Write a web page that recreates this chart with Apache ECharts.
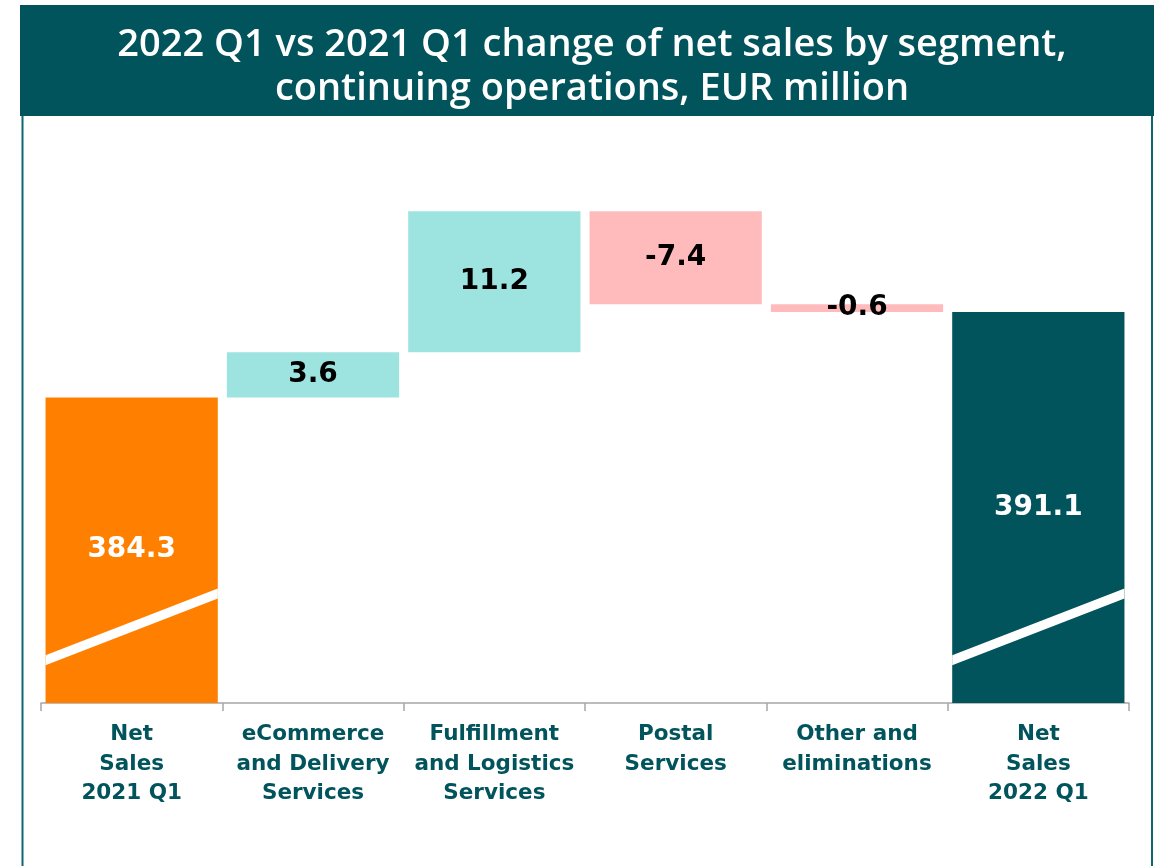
<!DOCTYPE html>
<html>
<head>
<meta charset="utf-8">
<script src="https://cdn.jsdelivr.net/npm/echarts@6/dist/echarts.min.js"></script>
<style>
  html, body { margin: 0; padding: 0; background: #fff; }
  #chart { width: 1166px; height: 866px; }
</style>
</head>
<body>
<div id="chart"></div>
<script>
// data
var categories = ['Net\nSales\n2021 Q1', 'eCommerce\nand Delivery\nServices', 'Fulfillment\nand Logistics\nServices', 'Postal\nServices', 'Other and\neliminations', 'Net\nSales\n2022 Q1'];
var startTotal = 384.3;
var changes = [3.6, 11.2, -7.4, -0.6];
var endTotal = 391.1;

// axis is cut (break marks on the total bars)
var axisMin = 360;
var axisMax = 400;
var breakLeft = 363.4;
var breakRight = 368.7;

var teal = '#01535C';
var orange = '#FF8000';
var upColor = '#9DE3DF';
var downColor = '#FFBBBC';

// build the waterfall rows: [index, low, high, value, kind]
var rows = [];
rows.push([0, axisMin, startTotal, startTotal, 0]);
var level = startTotal;
changes.forEach(function (c, i) {
  var next = level + c;
  rows.push([i + 1, Math.min(level, next), Math.max(level, next), c, c >= 0 ? 1 : 2]);
  level = next;
});
rows.push([categories.length - 1, axisMin, endTotal, endTotal, 3]);

var chart = echarts.init(document.getElementById('chart'));

function renderItem(params, api) {
  var i = api.value(0);
  var lo = api.value(1);
  var hi = api.value(2);
  var val = api.value(3);
  var kind = api.value(4);
  var pTop = api.coord([i, hi]);
  var pBot = api.coord([i, lo]);
  var w = api.size([1, 0])[0] * 0.95;
  var x0 = pTop[0] - w / 2;
  var fill = kind === 0 ? orange : kind === 1 ? upColor : kind === 2 ? downColor : teal;
  var isTotal = kind === 0 || kind === 3;

  var children = [{
    type: 'rect',
    shape: { x: x0, y: pTop[1], width: w, height: pBot[1] - pTop[1] },
    style: { fill: fill },
    textContent: {
      style: {
        text: val.toFixed(1),
        fill: isTotal ? '#ffffff' : '#000000',
        stroke: 'transparent',
        lineWidth: 0,
        font: 'bold 28px "DejaVu Sans", sans-serif'
      },
      z2: 10
    },
    textConfig: { position: 'inside', insideFill: isTotal ? '#ffffff' : '#000000', insideStroke: 'transparent' }
  }];

  if (isTotal) {
    var yl = api.coord([i, breakLeft])[1];
    var yr = api.coord([i, breakRight])[1];
    children.push({
      type: 'polygon',
      shape: { points: [[x0, yl - 5], [x0 + w, yr - 5], [x0 + w, yr + 5], [x0, yl + 5]] },
      style: { fill: '#ffffff' }
    });
  }
  return { type: 'group', children: children };
}

var option = {
  backgroundColor: '#ffffff',
  animation: false,
  title: {
    text: '2022 Q1 vs 2021 Q1 change of net sales by segment,\ncontinuing operations, EUR million',
    left: 587,
    top: 18,
    textAlign: 'center',
    textStyle: {
      color: '#ffffff',
      fontFamily: 'Open Sans',
      fontWeight: 600,
      fontSize: 38,
      lineHeight: 44
    }
  },
  graphic: [
    { type: 'rect', left: 20, top: 5, z: -1, shape: { width: 1134, height: 111 }, style: { fill: teal } },
    { type: 'line', z: -1, shape: { x1: 22.5, y1: 116, x2: 22.5, y2: 866 }, style: { stroke: '#0E6670', lineWidth: 2 } },
    { type: 'line', z: -1, shape: { x1: 1152, y1: 116, x2: 1152, y2: 866 }, style: { stroke: '#0E6670', lineWidth: 2 } }
  ],
  grid: { left: 41, right: 37, top: 200, bottom: 163 },
  xAxis: {
    type: 'category',
    data: categories,
    axisLine: { lineStyle: { color: '#A6A6A6', width: 1.5 } },
    axisTick: { show: true, length: 8, lineStyle: { color: '#A6A6A6', width: 1.5 } },
    axisLabel: {
      interval: 0,
      margin: 17,
      color: teal,
      fontFamily: 'DejaVu Sans',
      fontWeight: 'bold',
      fontSize: 21.5,
      lineHeight: 29.5
    }
  },
  yAxis: {
    type: 'value',
    min: axisMin,
    max: axisMax,
    show: false,
    splitLine: { show: false }
  },
  series: [{
    type: 'custom',
    renderItem: renderItem,
    encode: { x: 0, y: [1, 2] },
    data: rows
  }]
};

chart.setOption(option);
</script>
</body>
</html>
